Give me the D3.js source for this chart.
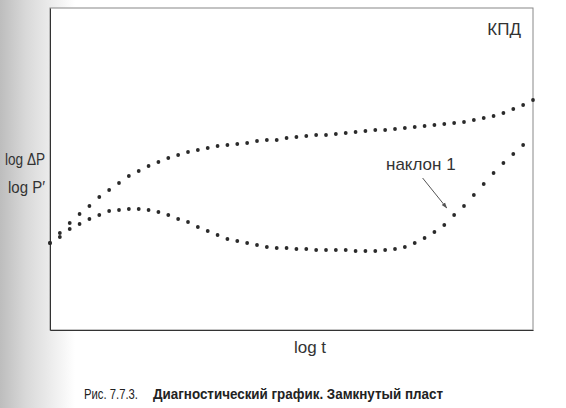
<!DOCTYPE html>
<html>
<head>
<meta charset="utf-8">
<script src="https://cdn.jsdelivr.net/npm/d3@7"></script>
<style>
  html, body { margin: 0; padding: 0; background: #fff; }
  svg { display: block; }
</style>
</head>
<body>
<svg id="chart" width="566" height="408"></svg>
<script>
// log t positions
const logT = [0.0,0.1,0.2,0.3,0.4,0.5,0.6,0.7,0.8,0.9,
              1.0,1.1,1.2,1.3,1.4,1.5,1.6,1.7,1.8,1.9,
              2.0,2.1,2.2,2.3,2.4,2.5,2.6,2.7,2.8,2.9,
              3.0,3.1,3.2,3.3,3.4,3.5,3.6,3.7,3.8,3.9,
              4.0,4.1,4.2,4.3,4.4,4.5,4.6,4.7,4.8,4.9];
// log ΔP (upper dotted curve)
const logDP = [0.87,0.97,1.07,1.16,1.24,1.33,1.40,1.47,1.54,1.59,
               1.64,1.68,1.72,1.75,1.78,1.80,1.82,1.84,1.85,1.86,
               1.87,1.89,1.90,1.90,1.92,1.93,1.94,1.95,1.95,1.96,
               1.97,1.98,1.99,2.00,2.00,2.01,2.02,2.03,2.04,2.05,
               2.06,2.07,2.08,2.10,2.12,2.14,2.17,2.21,2.25,2.30];
// log P' (lower dotted curve, derivative)
const logDer = [0.87,0.93,1.01,1.06,1.11,1.15,1.19,1.20,1.21,1.21,
                1.20,1.18,1.15,1.11,1.08,1.03,0.99,0.95,0.91,0.89,
                0.87,0.85,0.83,0.82,0.82,0.81,0.81,0.80,0.80,0.80,
                0.80,0.79,0.79,0.79,0.80,0.81,0.83,0.87,0.92,0.98,
                1.05,1.15,1.24,1.35,1.46,1.57,1.67,1.76,1.85];
const xDomain = [0, 4.9];
const yDomain = [0, 3.22];
const yLabels = ["log \u0394P", "log P\u2032"];
const yLabelValues = [1.70, 1.42];
const xLabel = "log t";
const cornerLabel = "КПД";
const slopeLabel = "наклон 1";
const slopeArrow = [[3.78, 1.52], [4.025, 1.22]];
const captionNum = "Рис. 7.7.3.";
const captionText = "Диагностический график. Замкнутый пласт";

const svg = d3.select("#chart");
const x = d3.scaleLinear().domain(xDomain).range([50, 533]);
const y = d3.scaleLinear().domain(yDomain).range([330, 8]);

// scan-like gray shading at the left edge
const defs = svg.append("defs");
const grad = defs.append("linearGradient").attr("id", "shade")
  .attr("x1", 0).attr("x2", 1).attr("y1", 0).attr("y2", 0);
grad.append("stop").attr("offset", 0).attr("stop-color", "#bdbdbd");
grad.append("stop").attr("offset", 0.35).attr("stop-color", "#d9d9d9");
grad.append("stop").attr("offset", 1).attr("stop-color", "#ffffff");
svg.append("rect").attr("x", 0).attr("y", 0).attr("width", 75).attr("height", 408)
  .attr("fill", "url(#shade)");

defs.append("marker").attr("id", "arrow")
  .attr("viewBox", "0 0 10 10").attr("refX", 9).attr("refY", 5)
  .attr("markerWidth", 6).attr("markerHeight", 6).attr("orient", "auto")
  .append("path").attr("d", "M0,1.5 L10,5 L0,8.5 Z").attr("fill", "#555");

// frame
svg.append("rect").attr("x", x(xDomain[0])).attr("y", y(yDomain[1]))
  .attr("width", x(xDomain[1]) - x(xDomain[0]))
  .attr("height", y(yDomain[0]) - y(yDomain[1]))
  .attr("fill", "#fff").attr("stroke", "#888").attr("stroke-width", 1);

// axes (no tick labels)
svg.append("g").attr("transform", `translate(0,${y(0)})`)
  .call(d3.axisBottom(x).tickValues([]).tickSizeOuter(0))
  .call(g => g.select(".domain").attr("stroke", "#333"));
svg.append("g").attr("transform", `translate(${x(0)},0)`)
  .call(d3.axisLeft(y).tickValues([]).tickSizeOuter(0))
  .call(g => g.select(".domain").attr("stroke", "#333"));

// dots
const upper = logT.map((t, i) => ({ t, v: logDP[i] }));
const lower = logDer.map((v, i) => ({ t: logT[i], v }));
svg.append("g").selectAll("circle").data(upper).join("circle")
  .attr("cx", d => x(d.t)).attr("cy", d => y(d.v)).attr("r", 1.9).attr("fill", "#2a2a2a");
svg.append("g").selectAll("circle").data(lower).join("circle")
  .attr("cx", d => x(d.t)).attr("cy", d => y(d.v)).attr("r", 1.9).attr("fill", "#2a2a2a");

const font = "'Liberation Sans', Arial, sans-serif";

// labels
svg.append("text").attr("x", 521).attr("y", 35).attr("text-anchor", "end")
  .attr("font-family", font).attr("font-size", 17).attr("fill", "#333").text(cornerLabel);

const yLabelWidths = [40, 37];
svg.selectAll(".ylab").data(yLabels).join("text").attr("class", "ylab")
  .attr("x", (d, i) => 45 - yLabelWidths[i]).attr("y", (d, i) => y(yLabelValues[i]) + 5)
  .attr("textLength", (d, i) => yLabelWidths[i]).attr("lengthAdjust", "spacingAndGlyphs")
  .attr("font-family", font).attr("font-size", 16)
  .attr("fill", "#333").text(d => d);

svg.append("text").attr("x", 310).attr("y", 353).attr("text-anchor", "middle")
  .attr("font-family", font).attr("font-size", 17).attr("fill", "#333").text(xLabel);

svg.append("text").attr("x", 386).attr("y", 170)
  .attr("font-family", font).attr("font-size", 17).attr("fill", "#333").text(slopeLabel);

svg.append("line")
  .attr("x1", x(slopeArrow[0][0])).attr("y1", y(slopeArrow[0][1]))
  .attr("x2", x(slopeArrow[1][0])).attr("y2", y(slopeArrow[1][1]))
  .attr("stroke", "#555").attr("stroke-width", 1).attr("marker-end", "url(#arrow)");

// caption
const cap = svg.append("text").attr("y", 399)
  .attr("font-family", "'Liberation Sans Narrow', 'Liberation Sans', Arial, sans-serif")
  .attr("font-size", 14).attr("fill", "#222");
cap.append("tspan").attr("x", 84).attr("textLength", 54).attr("lengthAdjust", "spacingAndGlyphs").text(captionNum);
cap.append("tspan").attr("x", 153).attr("font-weight", "bold")
  .attr("textLength", 290).attr("lengthAdjust", "spacingAndGlyphs").text(captionText);
</script>
</body>
</html>
